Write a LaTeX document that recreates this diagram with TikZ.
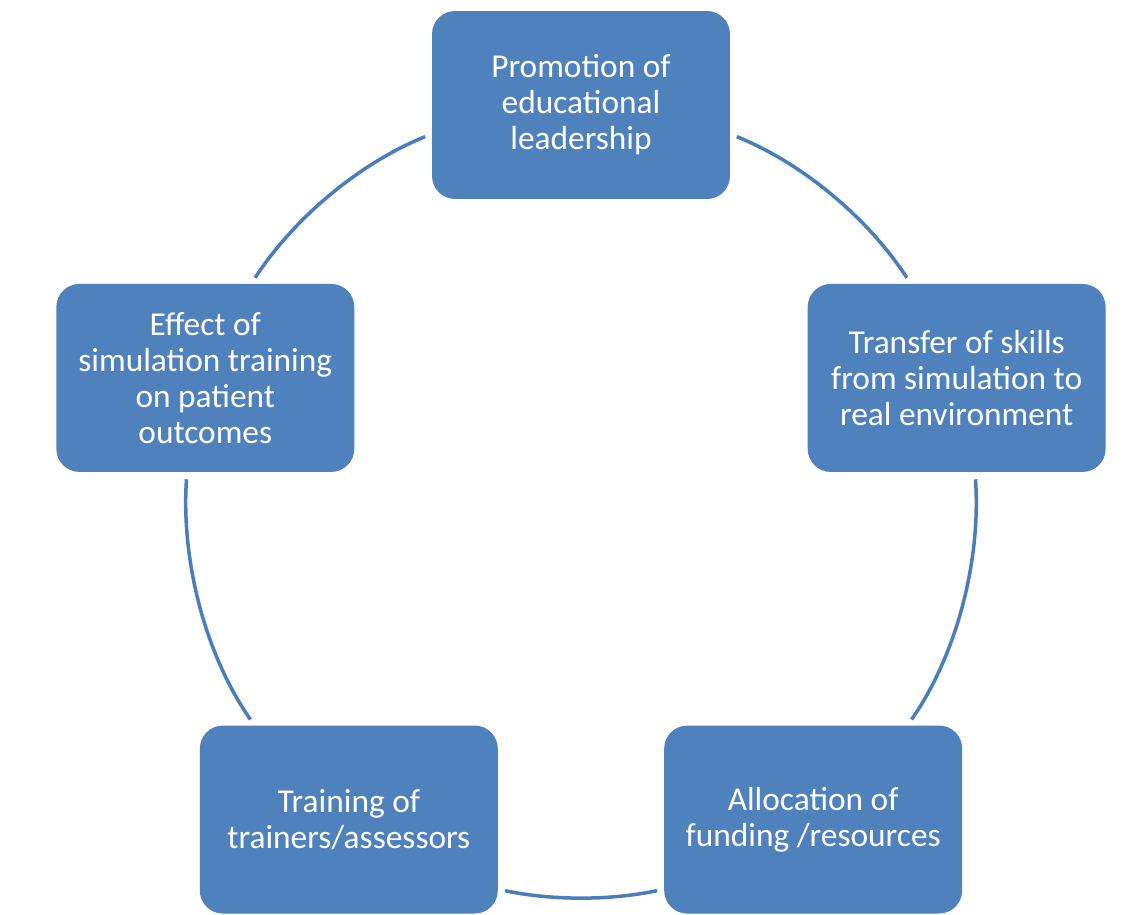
\documentclass[tikz,border=0pt]{standalone}
\usepackage{fontspec}
\setmainfont{Carlito}

\definecolor{boxblue}{RGB}{79,129,189}
\definecolor{ringblue}{RGB}{74,126,187}

\begin{document}
\begin{tikzpicture}[x=0.02cm, y=0.02cm,
    stage/.style={rectangle, rounded corners=0.46cm, fill=boxblue, text=white,
        minimum width=5.96cm, minimum height=3.76cm, inner sep=0pt, align=center,
        font=\fontsize{19}{20.5}\selectfont},
    ring/.style={draw=ringblue, line width=2pt, looseness=0.85,
        shorten <=0.14cm, shorten >=0.14cm}]
            \useasboundingbox (-581,-414) rectangle (564,500);
            \node[stage] (lead) at (90:395) {Promotion of\\educational\\leadership};
            \node[stage] (transfer) at (18:395) {Transfer of skills\\from simulation to\\real environment};
            \node[stage] (funding) at (-54:395) {Allocation of\\funding /resources};
            \node[stage] (trainers) at (-126:395) {Training of\\trainers/assessors};
            \node[stage] (effect) at (162:395) {Effect of\\simulation training\\on patient\\outcomes};
            % arcs of the ring, anticlockwise
            \draw[ring] (lead.191) to[out=202, in=57] (effect.64);
            \draw[ring] (effect.259) to[out=266, in=125] (trainers.135);
            \draw[ring] (trainers.-25) to[out=348, in=192] (funding.205);
            \draw[ring] (funding.45) to[out=55, in=-86] (transfer.281);
            \draw[ring] (transfer.116) to[out=123, in=-22] (lead.-11);
\end{tikzpicture}
\end{document}
